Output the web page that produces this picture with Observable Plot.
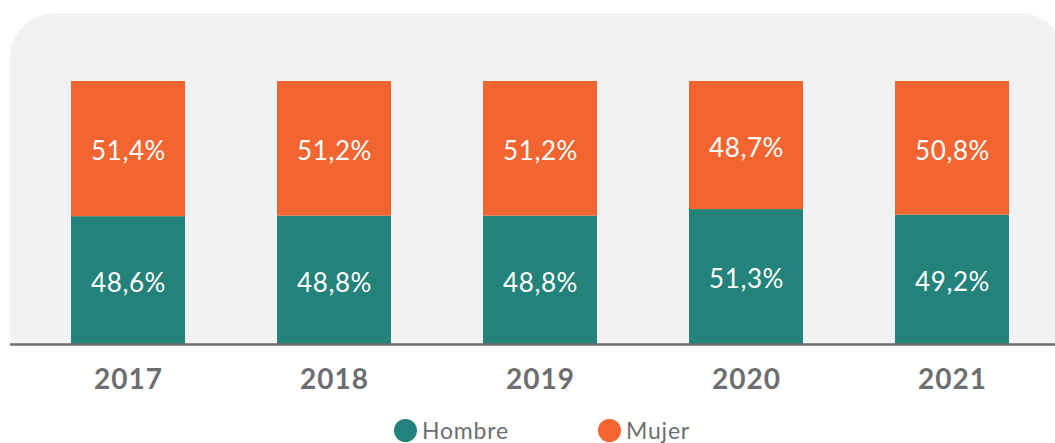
<!DOCTYPE html>
<html>
<head>
<meta charset="utf-8">
<script src="https://cdn.jsdelivr.net/npm/d3@7"></script>
<script src="https://cdn.jsdelivr.net/npm/@observablehq/plot@0.6"></script>
<style>
  html, body { margin: 0; padding: 0; background: #fff; overflow: hidden; width: 1055px; height: 443px; }
  #wrap { position: relative; width: 1055px; height: 443px; overflow: hidden; }
  #panel { position: absolute; left: 10px; top: 13px; width: 1055px; height: 331px;
           background: #f1f2f4; border-radius: 45px 45px 0 0; }
  #chart { position: absolute; left: 0; top: 0; }
  #chart svg g[aria-label="text"] text { letter-spacing: 0.6px; }
  #chart svg g[aria-label="x-axis tick label"] text { letter-spacing: 1px; }
  #legend { position: absolute; left: 0; top: 408px; width: 1055px; height: 35px;
            font-family: Lato, "Open Sans", sans-serif; font-size: 23px; color: #6d6e71; letter-spacing: 0.8px; }
  .item { position: absolute; top: 9px; display: flex; align-items: center; height: 26px; }
  .dot { width: 23px; height: 23px; border-radius: 50%; margin-right: 5px; }
</style>
</head>
<body>
<div id="wrap">
  <div id="panel"></div>
  <div id="chart"></div>
  <div id="legend"></div>
</div>
<script>
const years = ["2017", "2018", "2019", "2020", "2021"];
const series = ["Hombre", "Mujer"];
const hombre = [48.6, 48.8, 48.8, 51.3, 49.2];
const mujer = [51.4, 51.2, 51.2, 48.7, 50.8];
const colors = ["#23837a", "#f26531"];

const data = [];
years.forEach((yr, i) => {
  data.push({year: yr, sex: series[0], value: hombre[i]});
  data.push({year: yr, sex: series[1], value: mujer[i]});
});
const fmt = v => v.toFixed(1).replace(".", ",") + "%";

const chart = Plot.plot({
  width: 1055,
  height: 410,
  marginLeft: 10,
  marginRight: 0,
  marginTop: 13,
  marginBottom: 66,
  style: {background: "transparent", fontFamily: "Lato, 'Open Sans', sans-serif", overflow: "visible"},
  x: {domain: years, range: [70, 1009], paddingInner: 0.447, paddingOuter: 0, label: null},
  y: {domain: [0, 100], range: [344, 81], axis: null},
  color: {domain: series, range: colors},
  marks: [
    Plot.barY(data, {x: "year", y: "value", z: "sex", fill: "sex", order: series}),
    Plot.text(data, Plot.stackY({x: "year", y: "value", z: "sex", order: series,
      text: d => fmt(d.value), fill: "white", fontSize: 26, dy: 3})),
    Plot.ruleY([0], {stroke: "#6d6e71", strokeWidth: 2.5}),
    Plot.axisX({tickSize: 0, tickPadding: 25, fontSize: 28, fontWeight: "bold", color: "#6d6e71", label: null})
  ]
});
document.getElementById("chart").appendChild(chart);

const legend = document.getElementById("legend");
const lefts = [394, 598];
series.forEach((s, i) => {
  const it = document.createElement("div");
  it.className = "item";
  it.style.left = lefts[i] + "px";
  const dot = document.createElement("span");
  dot.className = "dot";
  dot.style.background = colors[i];
  const lab = document.createElement("span");
  lab.textContent = s;
  it.appendChild(dot);
  it.appendChild(lab);
  legend.appendChild(it);
});
</script>
</body>
</html>
